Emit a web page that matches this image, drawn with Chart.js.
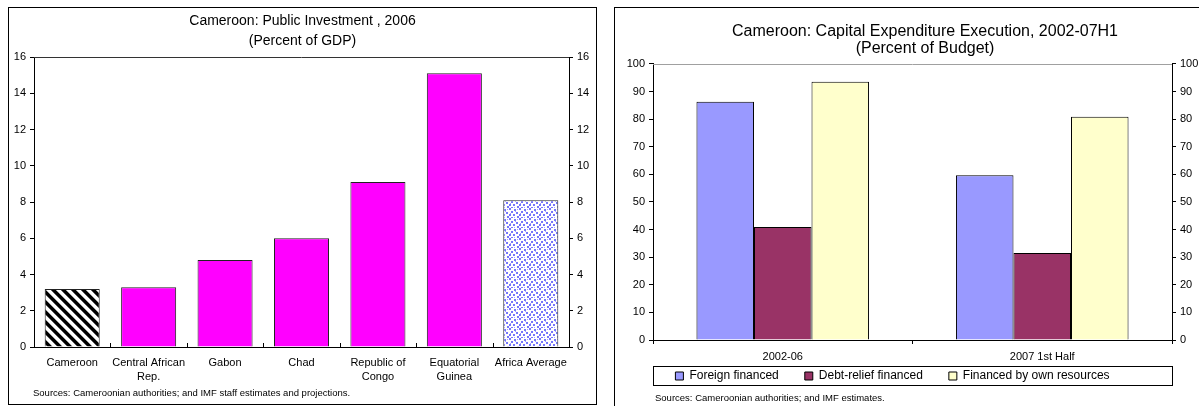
<!DOCTYPE html>
<html><head><meta charset="utf-8">
<script src="https://cdn.jsdelivr.net/npm/chart.js@4.4.1/dist/chart.umd.min.js"></script>
<style>
html,body{margin:0;padding:0;background:#fff;width:1199px;height:406px;overflow:hidden;font-family:"Liberation Sans",Arial,sans-serif;}
#p1{position:absolute;left:8px;top:7px;width:587px;height:396px;border:1px solid #000;}
#p2{position:absolute;left:614px;top:7px;width:620px;height:420px;border:1px solid #000;}
canvas{position:absolute;left:0;top:0;}
.src{position:absolute;font-size:9.5px;color:#000;white-space:nowrap;}
</style></head><body>
<div id="p1"><canvas id="c1" width="587" height="396"></canvas><div class="src" style="left:24px;top:379px">Sources: Cameroonian authorities; and IMF staff estimates and projections.</div></div>
<div id="p2"><canvas id="c2" width="620" height="410"></canvas><div class="src" style="left:40px;top:384px">Sources: Cameroonian authorities; and IMF estimates.</div></div>
<script>
// ---- Data: left chart ----
const investCategories = [['Cameroon'], ['Central African', 'Rep.'], ['Gabon'], ['Chad'], ['Republic of', 'Congo'], ['Equatorial', 'Guinea'], ['Africa Average']];
const investValues = [3.2, 3.3, 4.8, 6.0, 9.1, 15.1, 8.1];
const investTitle = ['Cameroon: Public Investment , 2006', '(Percent of GDP)'];
const investAxis = {min: 0, max: 16, step: 2};

// ---- Data: right chart ----
const capexCategories = ['2002-06', '2007 1st Half'];
const foreignFinanced = [86.3, 59.7];
const debtReliefFinanced = [40.9, 31.5];
const ownResourcesFinanced = [93.5, 80.9];
const capexSeriesNames = ['Foreign financed', 'Debt-relief financed', 'Financed by own resources'];
const capexTitle = ['Cameroon: Capital Expenditure Execution, 2002-07H1', '(Percent of Budget)'];
const capexAxis = {min: 0, max: 100, step: 10};

Chart.defaults.font.family = '"Liberation Sans", Arial, sans-serif';
Chart.defaults.color = '#000';
Chart.defaults.animation = false;

function stripePattern() {
  const N = 10, c = document.createElement('canvas');
  c.width = N; c.height = N;
  const x = c.getContext('2d');
  const img = x.createImageData(N, N);
  for (let py = 0; py < N; py++) for (let px = 0; px < N; px++) {
    let cov = 0;
    for (let sy = 0; sy < 4; sy++) for (let sx = 0; sx < 4; sx++) {
      const d = (((px + (sx + 0.5) / 4) - (py + (sy + 0.5) / 4)) % N + N) % N;
      if (d < N * 0.5) cov++;
    }
    const v = Math.round(255 * (1 - cov / 16));
    const i = (py * N + px) * 4;
    img.data[i] = v; img.data[i + 1] = v; img.data[i + 2] = v; img.data[i + 3] = 255;
  }
  x.putImageData(img, 0, 0);
  return x.createPattern(c, 'repeat');
}
function dotPattern() {
  const c = document.createElement('canvas');
  c.width = 10; c.height = 10;
  const x = c.getContext('2d');
  x.fillStyle = '#fff'; x.fillRect(0, 0, 10, 10);
  x.fillStyle = '#7474fc';
  [[0,0],[5,1],[2,3],[7,4],[0,6],[4,6],[8,8],[2,9]].forEach(([a, b]) => x.fillRect(a, b, 2, 2));
  x.fillStyle = '#a4a4fb';
  [[8,1],[5,9],[6,3],[1,5]].forEach(([a, b]) => x.fillRect(a, b, 1, 1));
  return x.createPattern(c, 'repeat');
}

const LEGEND_PAD = 26;
const frameTop = {
  id: 'frameTop',
  afterDraw(chart, args, opts) {
    const {ctx, chartArea: a} = chart;
    ctx.save();
    ctx.strokeStyle = opts.color || '#000';
    ctx.lineWidth = 1;
    ctx.beginPath();
    ctx.moveTo(a.left, Math.round(a.top) + 0.5);
    ctx.lineTo(a.right, Math.round(a.top) + 0.5);
    ctx.stroke();
    if (opts.upTicks) {
      const s = chart.scales.x;
      ctx.strokeStyle = '#000';
      for (let i = 1; i < s.ticks.length; i++) {
        const px = Math.round(s.getPixelForValue(i - 0.5)) + 0.5;
        ctx.beginPath();
        ctx.moveTo(px, a.bottom);
        ctx.lineTo(px, a.bottom - 4);
        ctx.stroke();
      }
    }
    if (opts.legendBox) {
      ctx.strokeStyle = '#000';
      ctx.strokeRect(Math.round(a.left) + 0.5, Math.round(a.bottom) + 26.5, Math.round(a.right - a.left), 19);
    }
    ctx.restore();
  },
  afterLayout(chart, args, opts) {
    if (opts.legendBox && chart.legend) {
      const l = chart.legend, a = chart.chartArea;
      const h = l.bottom - l.top;
      l.left = a.left - 40;
      l.right = a.right;
      l.top = a.bottom + 30 - LEGEND_PAD;
      l.bottom = l.top + h;
    }
  }
};

function yAxis(pos, axis, width) {
  return {
    position: pos, min: axis.min, max: axis.max,
    ticks: {stepSize: axis.step, font: {size: 11}, padding: 4},
    grid: {drawOnChartArea: false, tickLength: 4, color: '#000'},
    border: {color: '#000'},
    afterFit: s => { s.width = width; }
  };
}

new Chart(document.getElementById('c1'), {
  type: 'bar',
  data: {
    labels: investCategories,
    datasets: [{
      data: investValues,
      backgroundColor: investValues.map((v, i) => i === 0 ? stripePattern() : (i === investValues.length - 1 ? dotPattern() : '#ff00ff')),
      borderColor: '#222',
      borderWidth: 1,
      barPercentage: 0.72,
      categoryPercentage: 1
    }]
  },
  options: {
    responsive: false,
    layout: {padding: 0},
    plugins: {
      legend: {display: false},
      tooltip: {enabled: false},
      title: {display: true, text: investTitle, font: {size: 14, weight: 'normal', lineHeight: 1.43}, padding: {top: 3, bottom: 6}},
      frameTop: {color: '#333', upTicks: true}
    },
    scales: {
      x: {
        offset: true,
        grid: {display: false, drawTicks: false},
        border: {color: '#000'},
        ticks: {font: {size: 11, lineHeight: 1.27}, padding: 9, maxRotation: 0, autoSkip: false},
        afterFit: s => { s.height = 57; }
      },
      y: yAxis('left', investAxis, 25),
      y2: yAxis('right', investAxis, 27)
    }
  },
  plugins: [frameTop]
});

new Chart(document.getElementById('c2'), {
  type: 'bar',
  data: {
    labels: capexCategories,
    datasets: [
      {label: capexSeriesNames[0], data: foreignFinanced, backgroundColor: '#9999ff', borderColor: '#000', borderWidth: 1},
      {label: capexSeriesNames[1], data: debtReliefFinanced, backgroundColor: '#993366', borderColor: '#000', borderWidth: 1},
      {label: capexSeriesNames[2], data: ownResourcesFinanced, backgroundColor: '#ffffcc', borderColor: '#000', borderWidth: 1}
    ]
  },
  options: {
    responsive: false,
    datasets: {bar: {barPercentage: 1, categoryPercentage: 0.665}},
    layout: {padding: {bottom: 4}},
    plugins: {
      legend: {display: true, position: 'bottom', labels: {boxWidth: 8, boxHeight: 8, font: {size: 12}, padding: LEGEND_PAD, color: '#000'}},
      tooltip: {enabled: false},
      title: {display: true, text: capexTitle, font: {size: 16, weight: 'normal', lineHeight: 1.06}, padding: {top: 15.5, bottom: 6.5}},
      frameTop: {color: '#a0a0a0', legendBox: true}
    },
    scales: {
      x: {
        offset: true,
        grid: {offset: true, drawOnChartArea: false, tickLength: 4, color: '#000'},
        border: {color: '#000'},
        ticks: {font: {size: 11}, padding: 6, maxRotation: 0},
        afterFit: s => { s.height = 26; }
      },
      y: yAxis('left', capexAxis, 38),
      y2: yAxis('right', capexAxis, 63)
    }
  },
  plugins: [frameTop]
});
</script>
</body></html>
